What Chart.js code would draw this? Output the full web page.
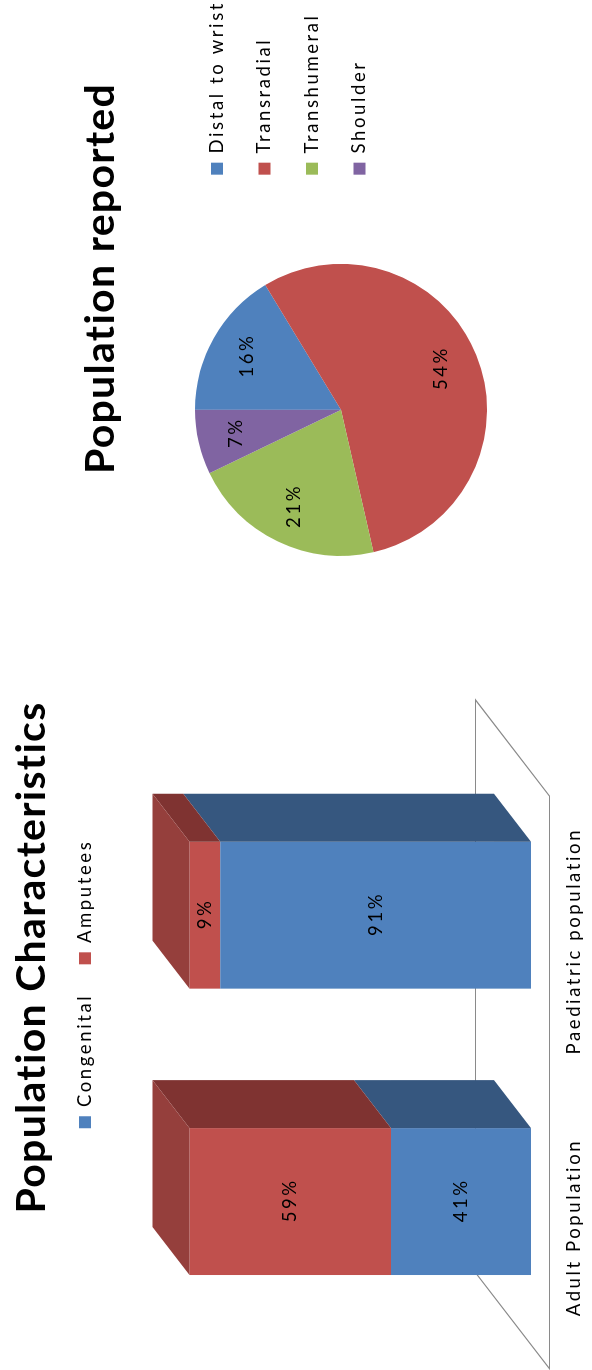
<!DOCTYPE html>
<html>
<head>
<meta charset="utf-8">
<script src="https://cdn.jsdelivr.net/npm/chart.js@4.4.1/dist/chart.umd.min.js"></script>
<style>
  html, body { margin: 0; padding: 0; background: #fff; width: 592px; height: 1370px; overflow: hidden; }
  /* the slide is laid out landscape and turned a quarter turn */
  #stage { position: absolute; left: 0; top: 0; width: 1370px; height: 592px;
           transform-origin: 0 0; transform: translateY(1370px) rotate(-90deg); background: #fff; }
  #stage canvas { position: absolute; top: 0; }
  .title { position: absolute; width: 600px; text-align: center; white-space: nowrap;
           font-family: Lato, "Open Sans", sans-serif; font-weight: 700; font-size: 41px; line-height: 41px;
           letter-spacing: 1.3px; color: #000; }
</style>
</head>
<body>
<div id="stage">
  <canvas id="bars" width="760" height="640" style="left:0px"></canvas>
  <canvas id="pie" width="690" height="592" style="left:700px"></canvas>
  <div class="title" style="left:112.5px; top:8.6px;">Population Characteristics</div>
  <div class="title" style="left:791.5px; top:77.6px;">Population reported</div>
</div>
<script>
// Population characteristics: share of congenital vs amputee cases (%)
const barCategories = ['Adult Population', 'Paediatric population'];
const congenitalPct = [41, 91];
const amputeesPct = [59, 9];

// Population reported by level of limb absence (%)
const levelNames = ['Distal to wrist', 'Transradial', 'Transhumeral', 'Shoulder'];
const levelPct = [16, 54, 21, 7];

const BLUE = '#4F81BD', RED = '#C0504D', GREEN = '#9BBB59', PURPLE = '#8064A2';
const SHADES = {
  [BLUE]: { top: '#3f689b', side: '#36577f' },
  [RED]:  { top: '#953f3c', side: '#7f3331' }
};
const DEPTH = { x: 48, y: -37 };          // oblique projection of one bar depth
const SMALL_FONT = { family: 'Lato', size: 18.5 };
const SMALL_SPACING = 2.6;
const TEXT_COLOR = '#000';

// wide spaced small text, as in the office-style rendering
const spacing = (px) => ({
  id: 'letterSpacing',
  beforeLayout(chart) { chart.ctx.letterSpacing = px + 'px'; },
  beforeDraw(chart) { chart.ctx.letterSpacing = px + 'px'; }
});

// 3D look for the stacked columns: floor outline, side faces and top face
const bar3d = {
  id: 'bar3d',
  beforeDatasetsDraw(chart) {
    const { ctx, chartArea, scales: { y } } = chart;
    const base = y.getPixelForValue(0);
    const fl = chartArea.left - DEPTH.x / 2, fr = chartArea.right - DEPTH.x / 2, fy = base - DEPTH.y / 2;
    ctx.save();
    ctx.strokeStyle = '#8a8a8a';
    ctx.lineWidth = 1.2;
    ctx.beginPath();
    ctx.moveTo(fl, fy);
    ctx.lineTo(fr, fy);
    ctx.lineTo(fr + 2 * DEPTH.x, fy + 2 * DEPTH.y);
    ctx.lineTo(fl + 2 * DEPTH.x, fy + 2 * DEPTH.y);
    ctx.closePath();
    ctx.stroke();
    ctx.restore();
  },
  afterDatasetsDraw(chart) {
    const ctx = chart.ctx;
    const n = chart.data.labels.length;
    ctx.save();
    for (let i = 0; i < n; i++) {
      let topSeg = null;
      chart.data.datasets.forEach((ds, d) => {
        const el = chart.getDatasetMeta(d).data[i];
        if (!el || !ds.data[i]) return;
        const p = el.getProps(['x', 'y', 'base', 'width'], true);
        const L = p.x - p.width / 2, R = p.x + p.width / 2;
        const top = Math.min(p.y, p.base), bottom = Math.max(p.y, p.base);
        const shade = SHADES[ds.backgroundColor];
        ctx.fillStyle = shade.side;
        ctx.beginPath();
        ctx.moveTo(R, top);
        ctx.lineTo(R + DEPTH.x, top + DEPTH.y);
        ctx.lineTo(R + DEPTH.x, bottom + DEPTH.y);
        ctx.lineTo(R, bottom);
        ctx.closePath();
        ctx.fill();
        if (!topSeg || top < topSeg.top) topSeg = { L, R, top, shade };
      });
      if (topSeg) {
        const { L, R, top, shade } = topSeg;
        ctx.fillStyle = shade.top;
        ctx.beginPath();
        ctx.moveTo(L, top);
        ctx.lineTo(R, top);
        ctx.lineTo(R + DEPTH.x, top + DEPTH.y);
        ctx.lineTo(L + DEPTH.x, top + DEPTH.y);
        ctx.closePath();
        ctx.fill();
      }
    }
    ctx.restore();
  }
};

// value labels centred on each column segment
const barLabels = {
  id: 'barLabels',
  afterDatasetsDraw(chart) {
    const ctx = chart.ctx;
    ctx.save();
    ctx.font = `${SMALL_FONT.size}px ${SMALL_FONT.family}`;
    ctx.letterSpacing = SMALL_SPACING + 'px';
    ctx.fillStyle = TEXT_COLOR;
    ctx.textAlign = 'center';
    ctx.textBaseline = 'middle';
    chart.data.datasets.forEach((ds, d) => {
      chart.getDatasetMeta(d).data.forEach((el, i) => {
        const p = el.getProps(['x', 'y', 'base'], true);
        ctx.fillText(ds.data[i] + '%', p.x + SMALL_SPACING / 2, (p.y + p.base) / 2);
      });
    });
    ctx.restore();
  }
};

// percentage labels inside the pie slices
const pieLabels = {
  id: 'pieLabels',
  afterDatasetsDraw(chart) {
    const ctx = chart.ctx;
    const ds = chart.data.datasets[0];
    ctx.save();
    ctx.font = `${SMALL_FONT.size}px ${SMALL_FONT.family}`;
    ctx.letterSpacing = SMALL_SPACING + 'px';
    ctx.fillStyle = TEXT_COLOR;
    ctx.textAlign = 'center';
    ctx.textBaseline = 'middle';
    chart.getDatasetMeta(0).data.forEach((arc, i) => {
      const p = arc.getProps(['x', 'y', 'startAngle', 'endAngle', 'outerRadius'], true);
      const mid = (p.startAngle + p.endAngle) / 2;
      const r = p.outerRadius * 0.74;
      ctx.fillText(ds.data[i] + '%', p.x + Math.cos(mid) * r + SMALL_SPACING / 2, p.y + Math.sin(mid) * r);
    });
    ctx.restore();
  }
};

new Chart(document.getElementById('bars'), {
  type: 'bar',
  data: {
    labels: barCategories,
    datasets: [
      { label: 'Congenital', data: congenitalPct, backgroundColor: BLUE },
      { label: 'Amputees', data: amputeesPct, backgroundColor: RED }
    ]
  },
  options: {
    responsive: false,
    animation: false,
    events: [],
    datasets: { bar: { categoryPercentage: 1, barPercentage: 0.513 } },
    layout: { padding: { left: 25.25, right: 13.25, top: 46.25, bottom: 22.8 } },
    plugins: {
      legend: {
        position: 'top',
        align: 'center',
        labels: { boxWidth: 12, boxHeight: 12, padding: 29.5, color: TEXT_COLOR, font: SMALL_FONT }
      },
      title: { display: false },
      tooltip: { enabled: false }
    },
    scales: {
      x: {
        stacked: true,
        grid: { display: false, drawTicks: false },
        border: { display: false },
        ticks: { font: SMALL_FONT, color: TEXT_COLOR, padding: 32, labelOffset: -26, maxRotation: 0, autoSkip: false }
      },
      y: {
        stacked: true,
        position: 'right',
        min: 0,
        max: 125,
        grid: { display: false, drawTicks: false },
        border: { display: false },
        ticks: { display: false },
        afterFit(scale) { scale.width = 148.75; }
      }
    }
  },
  plugins: [spacing(SMALL_SPACING), bar3d, barLabels]
});

new Chart(document.getElementById('pie'), {
  type: 'pie',
  data: {
    labels: levelNames,
    datasets: [{ data: levelPct, backgroundColor: [BLUE, RED, GREEN, PURPLE], borderWidth: 0, radius: 146 }]
  },
  options: {
    responsive: false,
    animation: false,
    events: [],
    layout: { padding: { left: 54, right: 11, top: 178.75, bottom: 88.75 } },
    plugins: {
      legend: {
        position: 'right',
        align: 'start',
        labels: { boxWidth: 12, boxHeight: 12, padding: 29, color: TEXT_COLOR, font: SMALL_FONT }
      },
      tooltip: { enabled: false }
    }
  },
  plugins: [spacing(SMALL_SPACING), pieLabels]
});
</script>
</body>
</html>
